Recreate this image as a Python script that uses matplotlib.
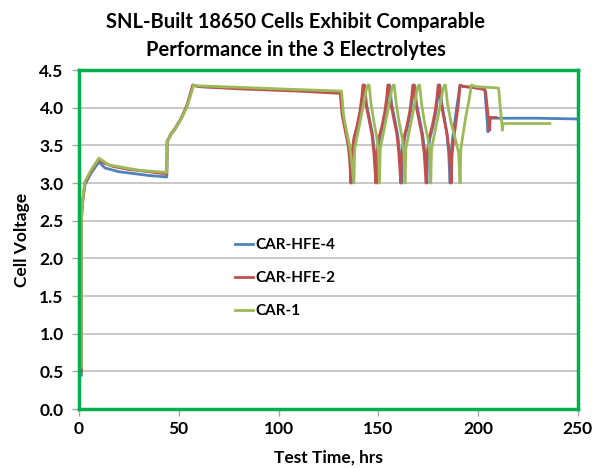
import numpy as np
import matplotlib.pyplot as plt

# Cell voltage vs. test time
hfe4_time = [1.2, 1.2, 1.5, 2.0, 3, 6, 10, 13, 20, 35, 44, 44.2, 46, 48, 51, 54, 57.3,
             60, 80, 110, 131.3, 132.3, 133.8, 135.3, 136.1, 136.6,
             136.9, 138.1, 139.6, 141.1, 142.1, 142.6, 143.1, 144.1, 145.6, 147.1, 148.2, 149.2,
             149.5, 150.7, 152.2, 153.7, 154.7, 155.2, 155.7, 156.7, 158.2, 159.7, 160.7, 161.7,
             162.0, 163.2, 164.7, 166.2, 167.2, 167.7, 168.2, 169.2, 170.7, 172.2, 173.4, 174.4,
             174.7, 175.9, 177.4, 178.9, 179.9, 180.4, 180.9, 181.9, 183.2, 184.4, 185.3, 186.0,
             186.3, 187.3, 188.3, 189.3, 190.2, 190.8, 193, 197, 203.2, 203.5, 205.0, 205.4, 230, 250]
hfe4_volt = [0.45, 2.5, 2.62, 2.78, 2.98, 3.13, 3.28, 3.2, 3.15, 3.1, 3.08, 3.55, 3.64, 3.71, 3.84, 4.02, 4.3,
             4.28, 4.26, 4.23, 4.21, 3.9, 3.7, 3.5, 3.3, 3.0,
             3.35, 3.6, 3.75, 3.95, 4.15, 4.3, 4.3, 4.05, 3.85, 3.65, 3.4, 3.0,
             3.35, 3.6, 3.75, 3.95, 4.15, 4.3, 4.3, 4.05, 3.85, 3.65, 3.4, 3.0,
             3.35, 3.6, 3.75, 3.95, 4.15, 4.3, 4.3, 4.05, 3.85, 3.65, 3.4, 3.0,
             3.35, 3.6, 3.75, 3.95, 4.15, 4.3, 4.3, 4.05, 3.85, 3.65, 3.4, 3.0,
             3.35, 3.6, 3.8, 4.0, 4.15, 4.29, 4.28, 4.27, 4.25, 4.21, 3.68, 3.86, 3.86, 3.85]

hfe2_time = [1.2, 1.2, 1.5, 2.0, 3, 6, 10, 12, 17, 25, 35, 44, 44.2, 46, 48, 51, 54, 57,
             60, 80, 110, 130.9, 131.9, 133.4, 134.9, 135.7, 136.3,
             136.6, 137.8, 139.3, 140.8, 141.8, 142.3, 142.8, 143.8, 145.3, 146.8, 147.8, 148.8,
             149.1, 150.3, 151.8, 153.3, 154.3, 154.8, 155.3, 156.3, 157.8, 159.3, 160.3, 161.3,
             161.6, 162.8, 164.3, 165.8, 166.8, 167.3, 167.8, 168.8, 170.3, 171.8, 173.0, 174.0,
             174.3, 175.5, 177.0, 178.5, 179.5, 180.0, 180.5, 181.5, 183.0, 184.5, 185.6, 186.6,
             186.9, 187.9, 188.9, 189.9, 190.5, 191.0, 193, 197, 203.4, 203.8, 205.8, 206.1, 209]
hfe2_volt = [0.5, 2.5, 2.65, 2.8, 3.0, 3.15, 3.32, 3.27, 3.22, 3.18, 3.15, 3.12, 3.55, 3.65, 3.72, 3.85, 4.02, 4.3,
             4.28, 4.25, 4.22, 4.19, 3.9, 3.7, 3.5, 3.3, 3.0,
             3.35, 3.6, 3.75, 3.95, 4.15, 4.3, 4.3, 4.05, 3.85, 3.65, 3.4, 3.0,
             3.35, 3.6, 3.75, 3.95, 4.15, 4.3, 4.3, 4.05, 3.85, 3.65, 3.4, 3.0,
             3.35, 3.6, 3.75, 3.95, 4.15, 4.3, 4.3, 4.05, 3.85, 3.65, 3.4, 3.0,
             3.35, 3.6, 3.75, 3.95, 4.15, 4.3, 4.3, 4.05, 3.85, 3.65, 3.4, 3.0,
             3.35, 3.6, 3.8, 4.0, 4.15, 4.3, 4.28, 4.27, 4.24, 4.21, 3.7, 3.87, 3.87]

car1_time = [1.2, 1.2, 1.5, 2.0, 3, 6, 10, 15, 30, 44, 44.2, 46, 48, 51, 54, 57.5,
             60, 80, 110, 131.6, 132.6, 134.0, 135.6, 136.6, 137.8,
             138.2, 139.3, 140.8, 142.3, 144.1, 144.9, 145.4, 146.4, 147.9, 149.3, 150.1, 150.6,
             151.0, 152.1, 153.6, 155.1, 156.8, 157.5, 158.0, 159.0, 160.5, 162.0, 162.9, 163.4,
             163.8, 164.9, 166.4, 167.9, 169.5, 170.2, 170.7, 171.7, 173.2, 174.8, 175.8, 176.3,
             176.7, 177.8, 179.3, 180.8, 182.5, 183.2, 183.7, 184.7, 186.5, 188.5, 190.3, 191.0,
             191.4, 192.5, 194.0, 195.5, 196.7, 199, 205, 210.3, 212.2, 212.6, 236]
car1_volt = [0.55, 2.5, 2.66, 2.82, 3.02, 3.17, 3.33, 3.24, 3.17, 3.14, 3.55, 3.64, 3.71, 3.84, 4.0, 4.3,
             4.29, 4.27, 4.24, 4.22, 3.9, 3.7, 3.5, 3.3, 3.0,
             3.45, 3.6, 3.8, 4.0, 4.25, 4.3, 4.3, 4.05, 3.8, 3.6, 3.4, 3.0,
             3.45, 3.6, 3.8, 4.0, 4.25, 4.3, 4.3, 4.05, 3.8, 3.6, 3.4, 3.0,
             3.45, 3.6, 3.8, 4.0, 4.25, 4.3, 4.3, 4.05, 3.8, 3.6, 3.4, 3.0,
             3.45, 3.6, 3.8, 4.0, 4.25, 4.3, 4.3, 4.05, 3.8, 3.6, 3.4, 3.0,
             3.45, 3.65, 3.9, 4.1, 4.3, 4.28, 4.27, 4.26, 3.7, 3.79, 3.79]

x_ticks = [0, 50, 100, 150, 200, 250]
y_ticks = [0.0, 0.5, 1.0, 1.5, 2.0, 2.5, 3.0, 3.5, 4.0, 4.5]

plt.rcParams['font.family'] = ['Lato', 'DejaVu Sans']
plt.rcParams['font.weight'] = 'bold'

fig = plt.figure(figsize=(5.92, 4.68), dpi=100)
ax = fig.add_axes([0.1334, 0.126, 0.8426, 0.7244])

# Series
ax.plot(hfe4_time, hfe4_volt, color="#4F81BD", lw=2, label="CAR-HFE-4")
ax.plot(hfe2_time, hfe2_volt, color="#C0504D", lw=2, label="CAR-HFE-2")
ax.plot(car1_time, car1_volt, color="#9BBB59", lw=2, label="CAR-1")

# Axes features
ax.set_xlim(0, 250)
ax.set_ylim(0, 4.5)
ax.set_xticks(x_ticks)
ax.set_yticks(y_ticks)
ax.set_yticklabels([f"{v:.1f}" for v in y_ticks])
ax.tick_params(labelsize=12.5, length=5, color="#A6A6A6", width=1)
ax.tick_params(axis="y", pad=6)
ax.grid(True, axis="y", color="#BFBFBF", lw=1.2)
ax.set_axisbelow(True)
for sp in ax.spines.values():
    sp.set_color("#00B050")
    sp.set_linewidth(2.5)

ax.set_xlabel("Test Time, hrs", fontsize=12.5, fontweight="bold", labelpad=9)
ax.set_ylabel("Cell Voltage", fontsize=12.5, fontweight="bold", labelpad=7)
fig.suptitle("SNL-Built 18650 Cells Exhibit Comparable\nPerformance in the 3 Electrolytes",
             fontsize=14.5, fontweight="bold", y=0.975, linespacing=1.5)

ax.legend(loc="upper left", bbox_to_anchor=(0.285, 0.545), frameon=False,
          fontsize=11, handlelength=1.2, handletextpad=0.15, labelspacing=1.25)

fig.savefig("out.png", dpi=100)
